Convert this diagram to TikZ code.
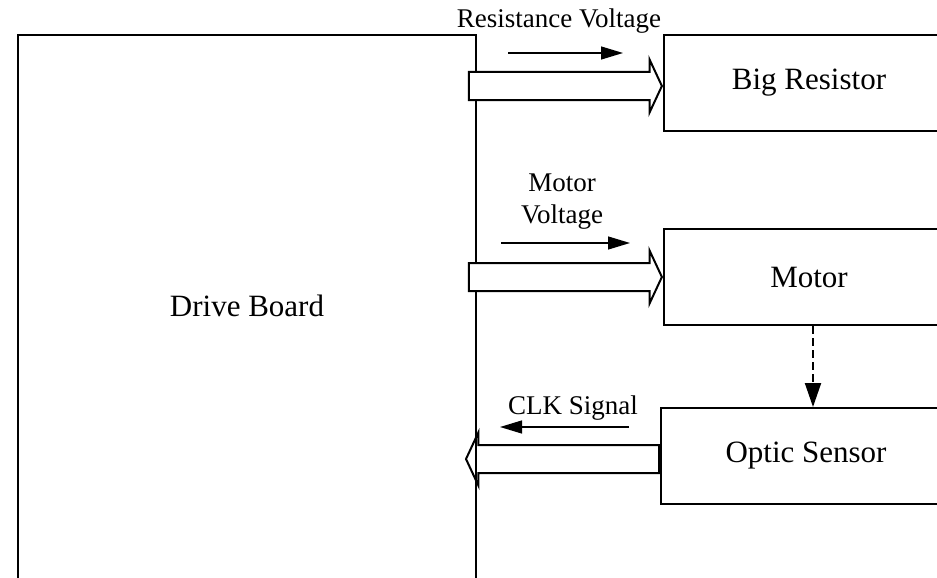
\documentclass[tikz,border=0pt]{standalone}
\usepackage{fontspec}
\setmainfont{Liberation Serif}
\usetikzlibrary{arrows.meta,calc,positioning,shapes.arrows}

\begin{document}
\begin{tikzpicture}[x=1pt, y=-1pt,
    block/.style={draw, line width=2pt, minimum width=290pt, minimum height=96pt,
      inner sep=0pt, font=\fontsize{31}{37}\selectfont},
    bus/.style={single arrow, draw, line width=2pt, inner xsep=0pt, inner ysep=13pt,
      minimum height=193pt, single arrow head extend=12.5pt, single arrow tip angle=130},
    sig/.style={line width=1.3pt, -{Triangle[length=22pt,width=13pt]}},
    lbl/.style={font=\fontsize{27}{32}\selectfont, align=center}]

  \useasboundingbox (0,0) rectangle (937,578);
  \clip (0,0) rectangle (937,578);

  % blocks
  \node[block, anchor=north west, minimum width=458pt, minimum height=620pt] (board) at (17,34) {};
  \node[font=\fontsize{31}{37}\selectfont] (boardtext) at ($(board.north)+(0,272)$) {Drive Board};
  \node[block, anchor=north west] (resistor) at (663,34)  {Big Resistor};
  \node[block, anchor=north west] (motor)    at (663,228) {Motor};
  \node[block, anchor=north west] (sensor)   at (660,407) {Optic Sensor};

  % bus arrows
  \node[bus, fill=white, anchor=tip] (resbus) at ([yshift=-3pt]resistor.west) {};
  \node[bus, fill=white, anchor=tip] (motbus) at (motor.west) {};
  \node[bus, shape border rotate=180, anchor=tail] (clkbus) at ([yshift=-3pt]sensor.west) {};

  % signal labels
  \node[lbl] (reslbl) at (559,21)  {Resistance Voltage};
  \node[lbl] (motlbl) at (562,202) {Motor\\Voltage};
  \node[lbl] (clklbl) at (573,408) {CLK Signal};

  \coordinate (res1) at (508,53);  \coordinate (res2) at (623,53);
  \coordinate (mot1) at (501,243); \coordinate (mot2) at (630,243);
  \coordinate (clk1) at (629,427); \coordinate (clk2) at (500,427);

  \draw[sig] (res1) -- (res2);
  \draw[sig] (mot1) -- (mot2);
  \draw[sig] (clk1) -- (clk2);

  % motor turns the sensor disc
  \draw[line width=2pt, dash pattern=on 8pt off 4pt, -{Triangle[length=24pt,width=16pt]}]
    ([xshift=4pt]motor.south) -- ([xshift=4pt]motor.south |- sensor.north);
\end{tikzpicture}
\end{document}
